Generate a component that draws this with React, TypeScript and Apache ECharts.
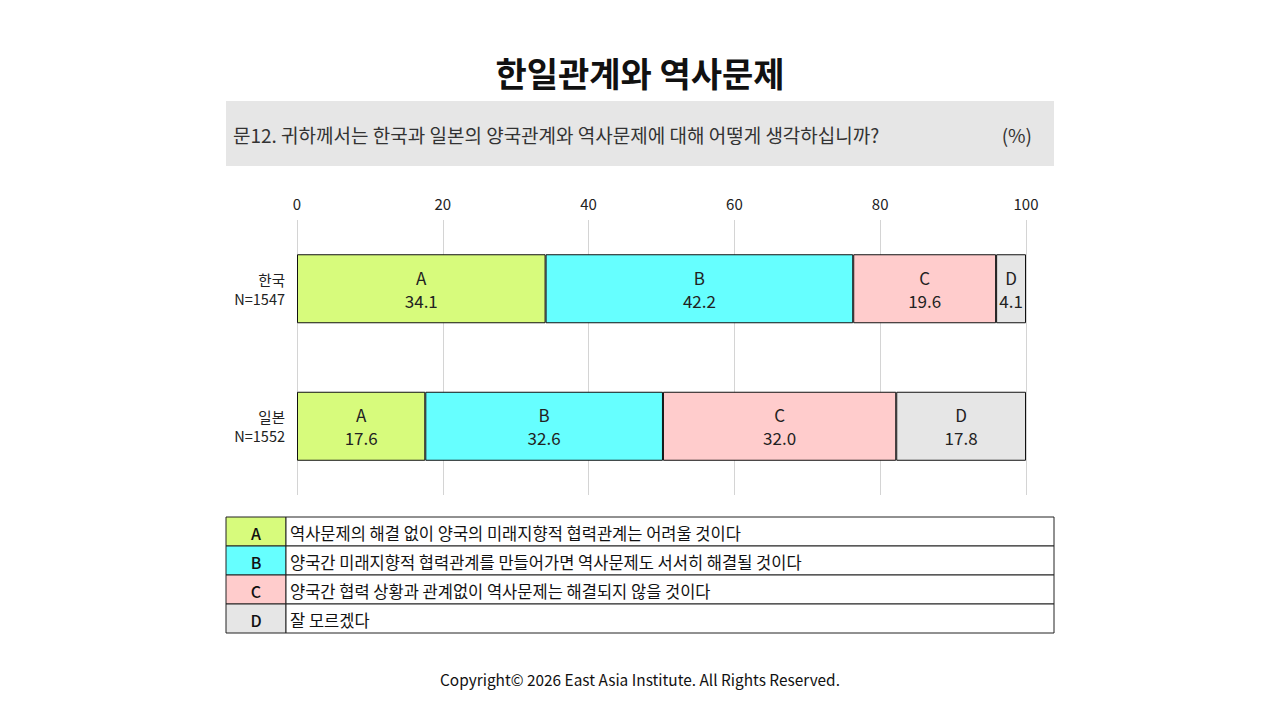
import React, { useEffect, useRef } from "react";
import * as echarts from "echarts";

const categories = ["한국\nN=1547", "일본\nN=1552"];
const seriesKeys = ["A", "B", "C", "D"];
const valuesA = [34.1, 17.6];
const valuesB = [42.2, 32.6];
const valuesC = [19.6, 32.0];
const valuesD = [4.1, 17.8];
const seriesValues = [valuesA, valuesB, valuesC, valuesD];
const colors = ["#d7fb7c", "#66ffff", "#ffcccc", "#e6e6e6"];
const legendTexts = [
  "역사문제의 해결 없이 양국의 미래지향적 협력관계는 어려울 것이다",
  "양국간 미래지향적 협력관계를 만들어가면 역사문제도 서서히 해결될 것이다",
  "양국간 협력 상황과 관계없이 역사문제는 해결되지 않을 것이다",
  "잘 모르겠다",
];
const titleText = "한일관계와 역사문제";
const questionText = "문12. 귀하께서는 한국과 일본의 양국관계와 역사문제에 대해 어떻게 생각하십니까?";
const unitText = "(%)";
const footerText = "Copyright© 2026 East Asia Institute. All Rights Reserved.";

const FONT = "'Noto Sans CJK KR', 'Noto Sans', sans-serif";

export default function App() {
  const ref = useRef<HTMLDivElement>(null);
  useEffect(() => {
    if (!ref.current) return;
    const chart = echarts.init(ref.current, undefined, { renderer: "svg" });

    const tableX = 226;
    const tableW = 828;
    const tableY = 517;
    const rowH = 29;
    const keyW = 60;
    const tableGraphics: any[] = [];
    seriesKeys.forEach((k, i) => {
      const y = tableY + i * rowH;
      tableGraphics.push({
        type: "rect",
        shape: { x: tableX, y, width: keyW, height: rowH },
        style: { fill: colors[i], stroke: "#222", lineWidth: 1 },
      });
      tableGraphics.push({
        type: "rect",
        shape: { x: tableX + keyW, y, width: tableW - keyW, height: rowH },
        style: { fill: "#fff", stroke: "#222", lineWidth: 1 },
      });
      tableGraphics.push({
        type: "text",
        x: tableX + keyW / 2,
        y: y + rowH / 2 + 1,
        style: {
          text: k,
          fontFamily: FONT,
          fontSize: 16,
          fontWeight: 500,
          fill: "#111",
          align: "center",
          verticalAlign: "middle",
        },
      });
      tableGraphics.push({
        type: "text",
        x: tableX + keyW + 4,
        y: y + rowH / 2 + 1,
        style: {
          text: legendTexts[i],
          fontFamily: FONT,
          fontSize: 16.5,
          fill: "#111",
          align: "left",
          verticalAlign: "middle",
        },
      });
    });

    const option: any = {
      animation: false,
      backgroundColor: "#fff",
      textStyle: { fontFamily: FONT },
      grid: { left: 297, right: 254, top: 220, bottom: 225 },
      xAxis: {
        type: "value",
        position: "top",
        min: 0,
        max: 100,
        interval: 20,
        axisLine: { show: false },
        axisTick: { show: false },
        axisLabel: { color: "#222", fontSize: 15, fontFamily: FONT, margin: 9 },
        splitLine: { show: true, lineStyle: { color: "#d4d4d4", width: 1 } },
      },
      yAxis: {
        type: "category",
        inverse: true,
        data: categories,
        axisLine: { show: false },
        axisTick: { show: false },
        axisLabel: {
          color: "#222",
          fontSize: 14.5,
          fontFamily: FONT,
          lineHeight: 19,
          margin: 12,
          align: "right",
        },
      },
      series: seriesKeys.map((k, i) => ({
        name: k,
        type: "bar",
        stack: "total",
        barWidth: 69,
        data: seriesValues[i],
        itemStyle: { color: colors[i], borderColor: "#111", borderWidth: 1 },
        label: {
          show: true,
          position: "inside",
          formatter: (p: any) => `${k}\n${Number(p.value).toFixed(1)}`,
          color: "#222",
          fontSize: 17,
          lineHeight: 23,
          fontFamily: FONT,
        },
      })),
      graphic: [
        {
          type: "text",
          x: 640,
          y: 72,
          style: {
            text: titleText,
            fontFamily: FONT,
            fontSize: 34,
            fontWeight: "bold",
            fill: "#111",
            align: "center",
            verticalAlign: "middle",
          },
        },
        {
          type: "rect",
          shape: { x: 226, y: 101, width: 828, height: 65 },
          style: { fill: "#e6e6e6" },
        },
        {
          type: "text",
          x: 233,
          y: 134,
          style: {
            text: questionText,
            fontFamily: FONT,
            fontSize: 19,
            fill: "#333",
            align: "left",
            verticalAlign: "middle",
          },
        },
        {
          type: "text",
          x: 1032,
          y: 134,
          style: {
            text: unitText,
            fontFamily: FONT,
            fontSize: 19,
            fill: "#333",
            align: "right",
            verticalAlign: "middle",
          },
        },
        ...tableGraphics,
        {
          type: "text",
          x: 640,
          y: 679,
          style: {
            text: footerText,
            fontFamily: FONT,
            fontSize: 15.4,
            fill: "#111",
            align: "center",
            verticalAlign: "middle",
          },
        },
      ],
    };
    chart.setOption(option);
    return () => chart.dispose();
  }, []);
  return <div ref={ref} style={{ width: 1280, height: 720, position: "absolute", left: 0, top: 0 }} />;
}
